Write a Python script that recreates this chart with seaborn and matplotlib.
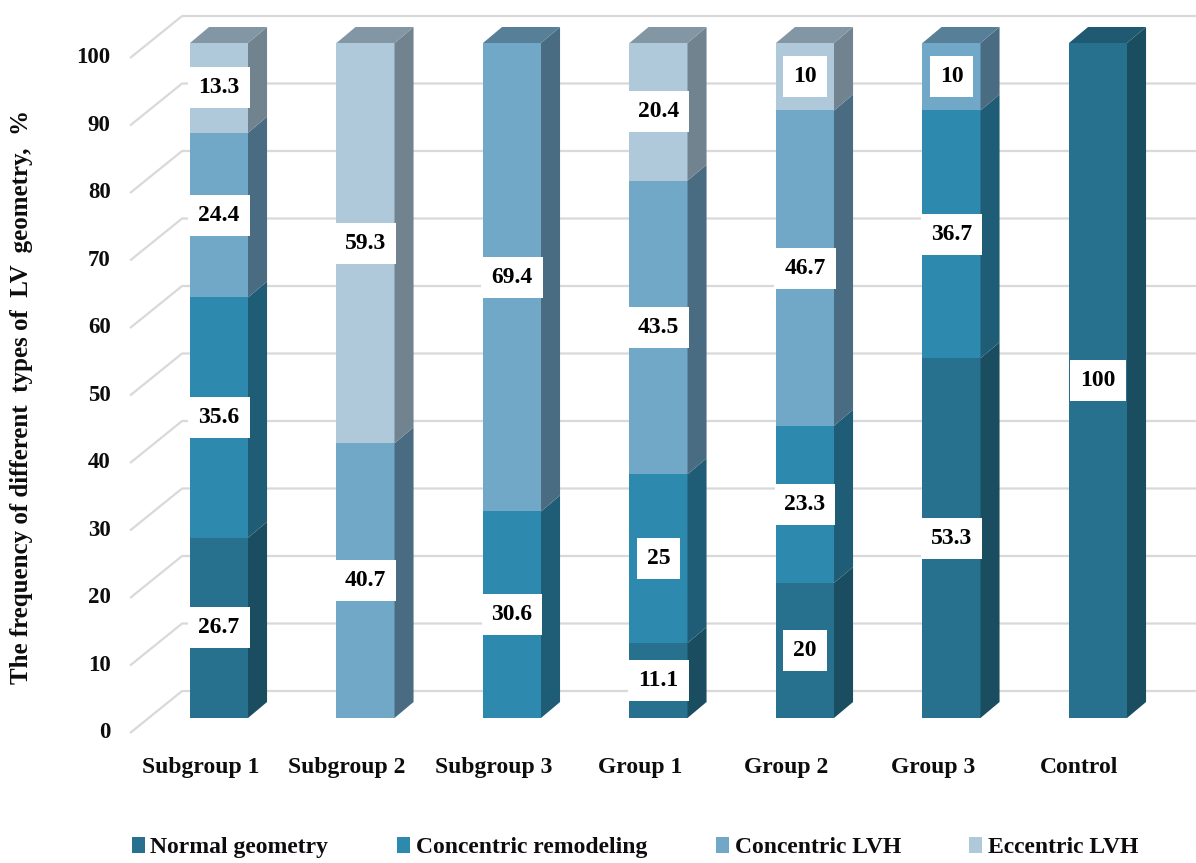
import numpy as np
import pandas as pd
import matplotlib
matplotlib.use("Agg")
import matplotlib.pyplot as plt
from matplotlib.patches import Polygon, Patch
import seaborn as sns

# ---- data -------------------------------------------------------------
categories = ["Subgroup 1", "Subgroup 2", "Subgroup 3", "Group 1",
              "Group 2", "Group 3", "Control"]
series_names = ["Normal geometry", "Concentric remodeling",
                "Concentric LVH", "Eccentric LVH"]
normal_geometry = [26.7, 0, 0, 11.1, 20, 53.3, 100]
concentric_remodeling = [35.6, 0, 30.6, 25, 23.3, 36.7, 0]
concentric_lvh = [24.4, 40.7, 69.4, 43.5, 46.7, 10, 0]
eccentric_lvh = [13.3, 59.3, 0, 20.4, 10, 0, 0]
y_ticks = [0, 10, 20, 30, 40, 50, 60, 70, 80, 90, 100]
y_label = "The frequency of different  types of  LV  geometry,  %"

# ---- styling ----------------------------------------------------------
front_colors = ["#27718f", "#2e89ae", "#72a8c7", "#b0c9da"]
side_colors = ["#1b4d61", "#1f5c75", "#496c82", "#71838f"]
top_colors = ["#1f5a72", "#236a87", "#587f98", "#8296a4"]
grid_color = "#d9d9d9"
text_color = "#0d0d0d"

sns.set_style("white")
plt.rcParams["font.family"] = ["Liberation Serif", "DejaVu Serif"]
plt.rcParams["font.weight"] = "bold"
FS = 16.5

fig = plt.figure(figsize=(11.96, 8.63), dpi=100)
ax = fig.add_axes([0, 0, 1, 1])

values = np.array([normal_geometry, concentric_remodeling,
                   concentric_lvh, eccentric_lvh])
cum = np.cumsum(values, axis=0)
bottoms = cum - values

bar_w = 0.396
# oblique depth of a bar and of the whole floor (data units)
bar_dx, bar_dy = 0.130, 2.37
floor_dx, floor_dy = 0.355, 6.222
front_off_x, front_off_y = -0.127, -2.222   # floor front edge relative to bar faces
floor_left, floor_right = -0.48, 7.5

def floor_pt(x, v, d):
    return (x + front_off_x + d * floor_dx, v + front_off_y + d * floor_dy)

# ---- gridlines: front diagonal + back wall ---------------------------
for v in y_ticks:
    p0 = floor_pt(floor_left, v, 0)
    p1 = floor_pt(floor_left, v, 1)
    p2 = floor_pt(floor_right, v, 1)
    ax.plot([p0[0], p1[0], p2[0]], [p0[1], p1[1], p2[1]],
            color=grid_color, lw=1.6, zorder=0, solid_capstyle="butt")
    ax.annotate(str(v), xy=p0, xytext=(-14, 0), textcoords="offset points",
                ha="right", va="center", fontsize=FS, fontweight="bold",
                color=text_color)

# ---- bar front faces (stacked, drawn from the top total downwards) ---
df = pd.DataFrame({"category": categories})
for k in range(len(series_names) - 1, -1, -1):
    df["value"] = cum[k]
    sns.barplot(data=df, x="category", y="value", order=categories,
                color=front_colors[k], saturation=1, width=bar_w,
                edgecolor="none", linewidth=0, ax=ax, zorder=2)

# ---- side and top faces ----------------------------------------------
for i in range(len(categories)):
    xr = i + bar_w / 2
    xl = i - bar_w / 2
    top_k = None
    for k in range(len(series_names)):
        val = values[k, i]
        if val <= 0:
            continue
        b, t = bottoms[k, i], cum[k, i]
        side = Polygon([(xr, b), (xr + bar_dx, b + bar_dy),
                        (xr + bar_dx, t + bar_dy), (xr, t)],
                       closed=True, facecolor=side_colors[k],
                       edgecolor="none", zorder=2)
        ax.add_patch(side)
        top_k = k
    total = cum[-1, i]
    top = Polygon([(xl, total), (xr, total), (xr + bar_dx, total + bar_dy),
                   (xl + bar_dx, total + bar_dy)], closed=True,
                  facecolor=top_colors[top_k], edgecolor="none", zorder=2)
    ax.add_patch(top)

# ---- value labels ----------------------------------------------------
for i in range(len(categories)):
    for k in range(len(series_names)):
        val = values[k, i]
        if val <= 0:
            continue
        ax.text(i, bottoms[k, i] + val / 2, f"{val:g}", ha="center",
                va="center", fontsize=FS + 0.5, fontweight="bold",
                color="black", zorder=5,
                bbox=dict(boxstyle="square,pad=0.42", facecolor="white",
                          edgecolor="none"))

# ---- category labels --------------------------------------------------
for i, name in enumerate(categories):
    p = floor_pt(i, 0, 0)
    ax.annotate(name, xy=p, xytext=(0, -25), textcoords="offset points",
                ha="center", va="center", fontsize=FS + 0.5,
                fontweight="bold", color=text_color)

# ---- axis title -------------------------------------------------------
ax.text(-1.345, 47.6, y_label, rotation=90, ha="center", va="center",
        fontsize=18, fontweight="bold", color=text_color)

ax.set_xlim(-219 / 146.5, (1196 - 219) / 146.5)
ax.set_ylim((718 - 863) / 6.75, 718 / 6.75)
ax.axis("off")

# ---- legend -----------------------------------------------------------
handles = [Patch(facecolor=c, edgecolor="none") for c in front_colors]
fig.legend(handles, series_names, loc="center", ncol=4,
           bbox_to_anchor=(0.531, 0.018), frameon=False,
           handlelength=0.55, handleheight=0.7, handletextpad=0.25,
           columnspacing=2.9, prop=dict(size=FS + 0.5, weight="bold"))
for t in fig.legends[0].get_texts():
    t.set_color(text_color)

fig.savefig("out.png", dpi=100, facecolor="white")
